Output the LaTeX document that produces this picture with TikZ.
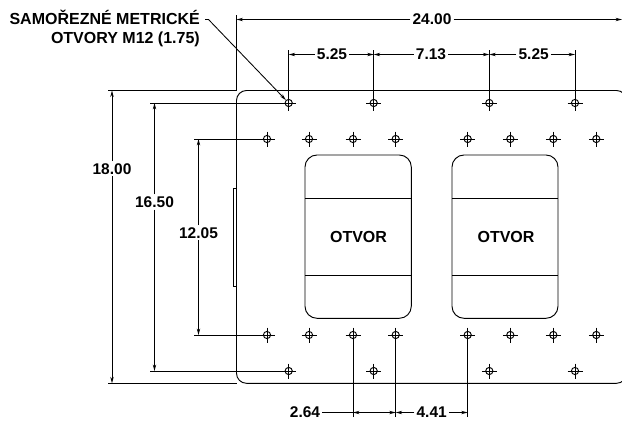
\documentclass[tikz,border=0pt]{standalone}
\usepackage{fontspec}
\setmainfont{Liberation Sans}
\usetikzlibrary{arrows.meta}
\tikzset{
	outline/.style={line width=0.95pt},
	dimline/.style={line width=0.85pt, >={Stealth[length=6.5pt,width=3.4pt]}},
	holemark/.style={circle, draw, line width=0.95pt, minimum size=7.2pt, inner sep=0pt},
	dimtext/.style={font=\fontsize{15.5}{19.5}\selectfont\bfseries, inner sep=2pt},
	capstext/.style={font=\fontsize{16}{19.5}\selectfont\bfseries, inner sep=0pt}
}
\newcommand{\myhole}[3]{
	\node [holemark] (#1) at (#2,#3) {};
	\draw [dimline] (#1.center) ++(-7.5,0) -- ++(15,0);
	\draw [dimline] (#1.center) ++(0,-7.5) -- ++(0,15);
}
\begin{document}
\begin{tikzpicture}[x=1pt,y=-1pt]
	\useasboundingbox (0,0) rectangle (622,421);
	\clip (0,0) rectangle (622,421);
	%Outer plate, its right edge runs off the page
	\draw [outline, rounded corners=10pt] (236.5,90.5) rectangle (626.5,383.3);
	%Tab on the left side
	\draw [outline] (236.5,188) -- (233,188) -- (233,286) -- (236.5,286);
	%Openings
	\foreach \xa/\xb in {305/411.3,452/558} {
		\draw [outline, rounded corners=12pt] (\xa,155) rectangle (\xb,318.3);
		\draw [outline] (\xa,198.3) -- (\xb,198.3);
		\draw [outline] (\xa,275.3) -- (\xb,275.3);
	}
	\node [capstext] (open1) at (358.5,236.5) {OTVOR};
	\node [capstext] (open2) at (506,236.5) {OTVOR};
	%Holes, outer rows
	\foreach \n/\x in {1/288.7,2/373.7,3/489.3,4/575} {
		\myhole{top\n}{\x}{103}
		\myhole{bot\n}{\x}{371}
	}
	%Holes, inner rows
	\foreach \n/\x in {1/267,2/309,3/353,4/395.7,5/467.7,6/510.3,7/553.3,8/596.3} {
		\myhole{up\n}{\x}{139}
		\myhole{low\n}{\x}{335}
	}
	%Overall width
	\coordinate (w0) at (236.5,15);
	\coordinate (w1) at (236.5,90.5);
	\coordinate (dimW0) at (236.5,19.5);
	\coordinate (dimW1) at (622,19.5);
	\node [dimtext] (lbl2400) at (432,19.5) {24.00};
	\draw [dimline] (w0) -- (w1);
	\draw [dimline,->] (lbl2400) -- (dimW0);
	\draw [dimline,->] (lbl2400) -- (dimW1);
	%Hole spacing at the top
	\foreach \n/\x in {1/288.7,2/373.7,3/489.3,4/575} {
		\coordinate (extT\n) at (\x,50);
		\coordinate (dimT\n) at (\x,54.5);
		\draw [dimline] (extT\n) -- (top\n.center);
	}
	\node [dimtext] (lbl525a) at (332,54.5) {5.25};
	\node [dimtext] (lbl713) at (431,54.5) {7.13};
	\node [dimtext] (lbl525b) at (533.7,54.5) {5.25};
	\draw [dimline,->] (lbl525a) -- (dimT1);
	\draw [dimline,->] (lbl525a) -- (dimT2);
	\draw [dimline,->] (lbl713) -- (dimT2);
	\draw [dimline,->] (lbl713) -- (dimT3);
	\draw [dimline,->] (lbl525b) -- (dimT3);
	\draw [dimline,->] (lbl525b) -- (dimT4);
	%Overall height
	\coordinate (h0) at (108,90.5);
	\coordinate (h1) at (236.5,90.5);
	\coordinate (h2) at (108,383.3);
	\coordinate (h3) at (236.5,383.3);
	\coordinate (dimH0) at (112,90.5);
	\coordinate (dimH1) at (112,383.3);
	\node [dimtext] (lbl1800) at (112,168.7) {18.00};
	\draw [dimline] (h0) -- (h1);
	\draw [dimline] (h2) -- (h3);
	\draw [dimline,->] (lbl1800) -- (dimH0);
	\draw [dimline,->] (lbl1800) -- (dimH1);
	%Outer rows of holes, height
	\coordinate (o0) at (150,103);
	\coordinate (o1) at (150,371);
	\coordinate (dimO0) at (154.5,103);
	\coordinate (dimO1) at (154.5,371);
	\node [dimtext] (lbl1650) at (154.5,202) {16.50};
	\draw [dimline] (o0) -- (top1.center);
	\draw [dimline] (o1) -- (bot1.center);
	\draw [dimline,->] (lbl1650) -- (dimO0);
	\draw [dimline,->] (lbl1650) -- (dimO1);
	%Inner rows of holes, height
	\coordinate (i0) at (194,139);
	\coordinate (i1) at (194,335);
	\coordinate (dimI0) at (198.5,139);
	\coordinate (dimI1) at (198.5,335);
	\node [dimtext] (lbl1205) at (198.5,232.7) {12.05};
	\draw [dimline] (i0) -- (up1.center);
	\draw [dimline] (i1) -- (low1.center);
	\draw [dimline,->] (lbl1205) -- (dimI0);
	\draw [dimline,->] (lbl1205) -- (dimI1);
	%Hole spacing at the bottom
	\foreach \n/\h/\x in {1/3/353,2/4/395.7,3/5/467.7} {
		\coordinate (extB\n) at (\x,417);
		\coordinate (dimB\n) at (\x,412.5);
		\draw [dimline] (extB\n) -- (low\h.center);
	}
	\node [dimtext] (lbl264) at (305,412.5) {2.64};
	\node [dimtext] (lbl441) at (431.7,412.5) {4.41};
	\draw [dimline] (lbl264) -- (dimB1);
	\draw [dimline,<->] (dimB1) -- (dimB2);
	\draw [dimline,->] (lbl441) -- (dimB2);
	\draw [dimline,->] (lbl441) -- (dimB3);
	%The callout
	\node [capstext, align=right, anchor=north east] (lblHoles) at (200,9.5) {SAMOŘEZNÉ METRICKÉ\\OTVORY M12 (1.75)};
	\coordinate (lead0) at (205,19.5);
	\coordinate (lead1) at (208.5,19.5);
	\draw [dimline,->] (lead0) -- (lead1) -- (top1);
\end{tikzpicture}
\end{document}
